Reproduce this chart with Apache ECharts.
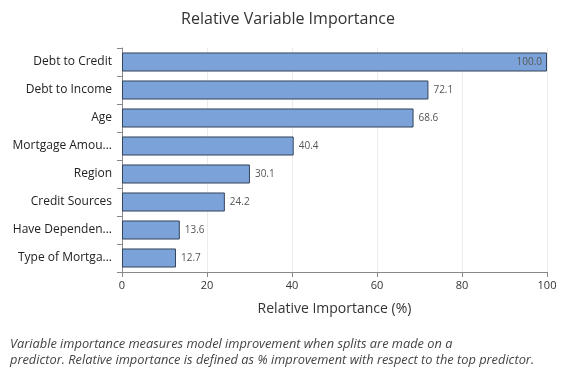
<!DOCTYPE html>
<html><head><meta charset="utf-8">
<script src="https://cdn.jsdelivr.net/npm/echarts@6/dist/echarts.min.js"></script>
<style>html,body{margin:0;padding:0;background:#fff}#c{width:576px;height:384px}</style>
</head><body><div id="c"></div>
<script>
const categories = ["Debt to Credit","Debt to Income","Age","Mortgage Amou...","Region","Credit Sources","Have Dependen...","Type of Mortga..."];
const values = [100.0, 72.1, 68.6, 40.4, 30.1, 24.2, 13.6, 12.7];
const xTicks = [0, 20, 40, 60, 80, 100];
const titleText = "Relative Variable Importance";
const xAxisName = "Relative Importance (%)";
const footnoteLines = ["Variable importance measures model improvement when splits are made on a","predictor. Relative importance is defined as % improvement with respect to the top predictor."];

const font = "'Open Sans', 'Noto Sans', sans-serif";
const chart = echarts.init(document.getElementById('c'));
chart.setOption({
  animation: false,
  title: { text: titleText, left: 'center', top: 6, textStyle: { fontFamily: font, fontSize: 16, fontWeight: 'normal', color: '#333' } },
  grid: { left: 122, right: 29, top: 48, bottom: 112 },
  xAxis: {
    type: 'value', min: xTicks[0], max: xTicks[xTicks.length-1], interval: 20,
    name: xAxisName, nameLocation: 'middle', nameGap: 30,
    nameTextStyle: { fontFamily: font, fontSize: 14, color: '#333' },
    axisLine: { show: true, lineStyle: { color: '#888' } },
    axisTick: { show: true, length: 5, lineStyle: { color: '#888' } },
    axisLabel: { fontFamily: font, fontSize: 11, color: '#333', margin: 8 },
    splitLine: { show: true, lineStyle: { color: '#ececec' } }
  },
  yAxis: {
    type: 'category', data: categories, inverse: true,
    axisLine: { show: true, lineStyle: { color: '#888' } },
    axisTick: { show: true, length: 5, lineStyle: { color: '#888' } },
    axisLabel: { fontFamily: font, fontSize: 12, color: '#222', margin: 10 }
  },
  series: [{
    type: 'bar', data: values.map((v, i) => ({
      value: v,
      label: i === 0 ? { position: 'insideRight' } : { position: 'right' }
    })),
    barWidth: '68%',
    itemStyle: { color: '#7ba3da', borderColor: '#34445a', borderWidth: 1 },
    label: { show: true, fontFamily: font, fontSize: 10, color: '#555', formatter: p => p.value.toFixed(1), distance: 5 }
  }],
  graphic: footnoteLines.map((t, i) => ({
    type: 'text', left: 10, top: 338 + i * 16,
    style: { text: t, fontFamily: font, fontSize: 12.8, fontStyle: 'italic', fill: '#444' }
  }))
});
</script></body></html>
